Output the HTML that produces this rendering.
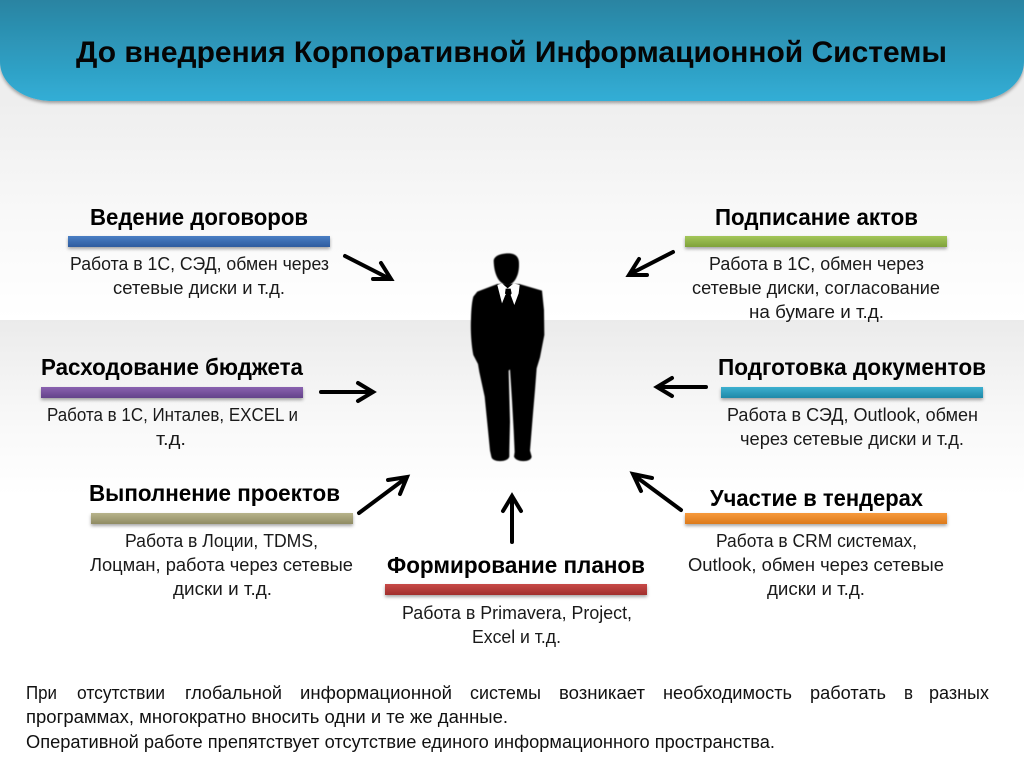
<!DOCTYPE html>
<html lang="ru"><head><meta charset="utf-8"><title>До внедрения КИС</title>
<style>
html,body{margin:0;padding:0;background:#fff}
svg{display:block}
text{font-family:"Liberation Sans","DejaVu Sans",sans-serif;fill:#111}
.h{font-weight:700;font-size:23px;fill:#000}
.t{font-size:18px;fill:#1a1a1a}
.b{font-size:18px;fill:#111}
</style></head><body>
<svg width="1024" height="767" viewBox="0 0 1024 767" xmlns="http://www.w3.org/2000/svg">
<defs>
<linearGradient id="bgTop" x1="0" y1="0" x2="0" y2="1"><stop offset="0" stop-color="#eeeeee"/><stop offset=".5" stop-color="#f8f8f8"/><stop offset="1" stop-color="#fff"/></linearGradient>
<linearGradient id="bgMid" x1="0" y1="0" x2="0" y2="1"><stop offset="0" stop-color="#ebebeb"/><stop offset=".5" stop-color="#f7f7f7"/><stop offset="1" stop-color="#fff"/></linearGradient>
<linearGradient id="hdr" x1="0" y1="0" x2="0" y2="1"><stop offset="0" stop-color="#2a84a2"/><stop offset="1" stop-color="#31aed6"/></linearGradient>
<linearGradient id="gBlue" x1="0" y1="0" x2="0" y2="1"><stop offset="0" stop-color="#4a7fc4"/><stop offset="1" stop-color="#2f5c9f"/></linearGradient>
<linearGradient id="gGreen" x1="0" y1="0" x2="0" y2="1"><stop offset="0" stop-color="#a4c75a"/><stop offset="1" stop-color="#7fa23a"/></linearGradient>
<linearGradient id="gPurple" x1="0" y1="0" x2="0" y2="1"><stop offset="0" stop-color="#8a62b0"/><stop offset="1" stop-color="#64438a"/></linearGradient>
<linearGradient id="gCyan" x1="0" y1="0" x2="0" y2="1"><stop offset="0" stop-color="#3cb0d0"/><stop offset="1" stop-color="#2089a8"/></linearGradient>
<linearGradient id="gOlive" x1="0" y1="0" x2="0" y2="1"><stop offset="0" stop-color="#b8b48c"/><stop offset="1" stop-color="#8f8b62"/></linearGradient>
<linearGradient id="gOrange" x1="0" y1="0" x2="0" y2="1"><stop offset="0" stop-color="#f79a3c"/><stop offset="1" stop-color="#dc7a1c"/></linearGradient>
<linearGradient id="gRed" x1="0" y1="0" x2="0" y2="1"><stop offset="0" stop-color="#c84a48"/><stop offset="1" stop-color="#a02e2c"/></linearGradient>
<filter id="sh" x="-5%" y="-50%" width="110%" height="220%"><feDropShadow dx="0" dy="2" stdDeviation="1.5" flood-color="#000" flood-opacity=".35"/></filter>
<filter id="soft" x="-10%" y="-10%" width="120%" height="120%"><feGaussianBlur stdDeviation="1.6"/></filter>
</defs>

<rect x="0" y="0" width="1024" height="100" fill="#eee"/>
<rect x="0" y="100" width="1024" height="220" fill="url(#bgTop)"/>
<rect x="0" y="320" width="1024" height="175" fill="url(#bgMid)"/>
<rect x="0" y="495" width="1024" height="272" fill="#fff"/>

<path d="M0 0H1024V62C1024 84 1000 101 972 101H52C24 101 0 84 0 62Z" fill="url(#hdr)" filter="url(#sh)"/>
<text x="76" y="62" font-size="30" font-weight="700" style="fill:#050505" textLength="871" lengthAdjust="spacingAndGlyphs">До внедрения Корпоративной Информационной Системы</text>

<!-- bars -->
<g filter="url(#sh)">
<rect x="68" y="236" width="262" height="11" fill="url(#gBlue)"/>
<rect x="685" y="236" width="262" height="11" fill="url(#gGreen)"/>
<rect x="41" y="387" width="262" height="11" fill="url(#gPurple)"/>
<rect x="721" y="387" width="262" height="11" fill="url(#gCyan)"/>
<rect x="91" y="513" width="262" height="11" fill="url(#gOlive)"/>
<rect x="685" y="513" width="262" height="11" fill="url(#gOrange)"/>
<rect x="385" y="584" width="262" height="11" fill="url(#gRed)"/>
</g>

<!-- headings -->
<text class="h" x="90" y="225" textLength="218" lengthAdjust="spacingAndGlyphs">Ведение договоров</text>
<text class="h" x="715" y="225" textLength="203" lengthAdjust="spacingAndGlyphs">Подписание актов</text>
<text class="h" x="41" y="375" textLength="262" lengthAdjust="spacingAndGlyphs">Расходование бюджета</text>
<text class="h" x="718" y="375" textLength="268" lengthAdjust="spacingAndGlyphs">Подготовка документов</text>
<text class="h" x="89" y="501" textLength="251" lengthAdjust="spacingAndGlyphs">Выполнение проектов</text>
<text class="h" x="710" y="506" textLength="213" lengthAdjust="spacingAndGlyphs">Участие в тендерах</text>
<text class="h" x="387" y="573" textLength="258" lengthAdjust="spacingAndGlyphs">Формирование планов</text>

<!-- body labels -->
<text class="t" x="70" y="270" textLength="259" lengthAdjust="spacingAndGlyphs">Работа в 1С, СЭД, обмен через</text>
<text class="t" x="113" y="294" textLength="172" lengthAdjust="spacingAndGlyphs">сетевые диски и т.д.</text>
<text class="t" x="709" y="270" textLength="215" lengthAdjust="spacingAndGlyphs">Работа в 1С, обмен через</text>
<text class="t" x="692" y="294" textLength="248" lengthAdjust="spacingAndGlyphs">сетевые диски, согласование</text>
<text class="t" x="749" y="318" textLength="135" lengthAdjust="spacingAndGlyphs">на бумаге и т.д.</text>
<text class="t" x="47" y="421" textLength="251" lengthAdjust="spacingAndGlyphs">Работа в 1С, Инталев, EXCEL и</text>
<text class="t" x="156" y="445" textLength="30" lengthAdjust="spacingAndGlyphs">т.д.</text>
<text class="t" x="727" y="421" textLength="251" lengthAdjust="spacingAndGlyphs">Работа в СЭД, Outlook, обмен</text>
<text class="t" x="740" y="445" textLength="224" lengthAdjust="spacingAndGlyphs">через сетевые диски и т.д.</text>
<text class="t" x="125" y="547" textLength="193" lengthAdjust="spacingAndGlyphs">Работа в Лоции, TDMS,</text>
<text class="t" x="90" y="571" textLength="263" lengthAdjust="spacingAndGlyphs">Лоцман, работа через сетевые</text>
<text class="t" x="173" y="595" textLength="99" lengthAdjust="spacingAndGlyphs">диски и т.д.</text>
<text class="t" x="716" y="547" textLength="201" lengthAdjust="spacingAndGlyphs">Работа в CRM системах,</text>
<text class="t" x="688" y="571" textLength="256" lengthAdjust="spacingAndGlyphs">Outlook, обмен через сетевые</text>
<text class="t" x="767" y="595" textLength="98" lengthAdjust="spacingAndGlyphs">диски и т.д.</text>
<text class="t" x="402" y="619" textLength="230" lengthAdjust="spacingAndGlyphs">Работа в Primavera, Project,</text>
<text class="t" x="472" y="643" textLength="89" lengthAdjust="spacingAndGlyphs">Excel и т.д.</text>

<!-- arrows -->
<g fill="none" stroke="#000" stroke-width="4" stroke-linecap="round" stroke-linejoin="miter">
<path d="M345 256L390 279M373 279H391L381 263"/>
<path d="M673 252L630 274M647 275H629L639 259"/>
<path d="M321 392H372M358 383L373 392L358 401"/>
<path d="M706 387H658M672 378L657 387L672 396"/>
<path d="M359 513L406 478M388 480L407 477L400 494"/>
<path d="M681 510L635 476M652 478L633 474L641 491"/>
<path d="M512 542V497M503 511L512 496L521 511"/>
</g>

<!-- silhouette -->
<g transform="translate(440 240) scale(.3333)">
<path filter="url(#soft)" fill="#000" d="M172 132L112 155L100 170C96 185 94 205 93 235C91 270 94 315 100 345L114 372L118 396L134 470L144 570L150 632L154 650C156 668 204 668 208 650L208 632L210 545L206 392L210 388L216 480L221 570L224 636L222 650C228 668 274 668 275 650L270 632L279 520L285 450L290 385L300 352L313 285L312 210L306 152L238 132Z"/>
<path filter="url(#soft)" fill="#000" d="M161 62C163 46 185 40 205 40C226 40 238 50 237 72C238 100 228 128 205 136C178 135 162 105 161 62Z"/>
<path fill="#fff" d="M172 135L186 130L203 145L221 130L239 135L236 160L223 195L212 165L196 165L186 190Z"/>
<path fill="#000" d="M197 146H212L215 160L210 168L222 200L205 228L190 200L200 168L195 160Z"/>
</g>

<!-- bottom paragraph -->
<g>
<text class="b" x="26" y="699" textLength="31" lengthAdjust="spacingAndGlyphs">При</text>
<text class="b" x="77" y="699" textLength="88" lengthAdjust="spacingAndGlyphs">отсутствии</text>
<text class="b" x="185" y="699" textLength="97" lengthAdjust="spacingAndGlyphs">глобальной</text>
<text class="b" x="300" y="699" textLength="152" lengthAdjust="spacingAndGlyphs">информационной</text>
<text class="b" x="470" y="699" textLength="71" lengthAdjust="spacingAndGlyphs">системы</text>
<text class="b" x="559" y="699" textLength="86" lengthAdjust="spacingAndGlyphs">возникает</text>
<text class="b" x="663" y="699" textLength="129" lengthAdjust="spacingAndGlyphs">необходимость</text>
<text class="b" x="810" y="699" textLength="76" lengthAdjust="spacingAndGlyphs">работать</text>
<text class="b" x="904" y="699" textLength="9" lengthAdjust="spacingAndGlyphs">в</text>
<text class="b" x="929" y="699" textLength="60" lengthAdjust="spacingAndGlyphs">разных</text>
<text class="b" x="26" y="723" textLength="482" lengthAdjust="spacingAndGlyphs">программах, многократно вносить одни и те же данные.</text>
<text class="b" x="26" y="748" textLength="749" lengthAdjust="spacingAndGlyphs">Оперативной работе препятствует отсутствие единого информационного пространства.</text>
</g>
</svg>
</body></html>
